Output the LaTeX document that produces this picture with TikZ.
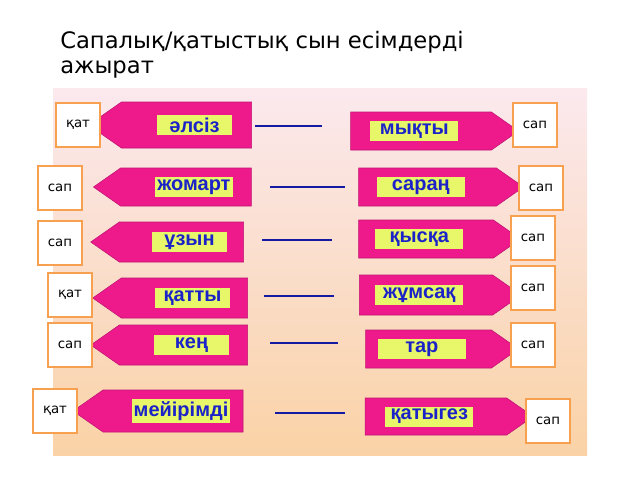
\documentclass[tikz,border=0pt]{standalone}
\usepackage{fontspec}
\setmainfont{DejaVu Sans}
\newfontfamily\arfont{Liberation Sans}
\usetikzlibrary{shapes.arrows,calc}
\definecolor{magenta1}{HTML}{EE1A8C}
\definecolor{lemon}{HTML}{E8F66A}
\definecolor{wordblue}{HTML}{1A22C8}
\definecolor{boxorange}{HTML}{F7A050}
\definecolor{bgtop}{HTML}{FBE9EE}
\definecolor{bgbot}{HTML}{FAD2A6}
\tikzset{
  arr/.style={single arrow, single arrow head extend=0pt, single arrow tip angle=70,
    fill=magenta1, draw=magenta1!80!black, inner sep=0pt},
  word/.style={fill=lemon, text=wordblue, font=\arfont\bfseries\fontsize{15}{15}\selectfont,
    inner sep=1.5pt, minimum height=15pt, minimum width=56pt},
  tag/.style={draw=boxorange, line width=1pt, fill=white, minimum size=33pt,
    font=\fontsize{10}{10}\selectfont},
  joinline/.style={draw=wordblue!80!black, line width=1.2pt}
}
\begin{document}
\begin{tikzpicture}[x=0.75pt,y=-0.75pt]
  \useasboundingbox (0,0) rectangle (640,480);
  % Background panel and title
  \shade[top color=bgtop, bottom color=bgbot] (53,88) rectangle (587,455);
  \node[anchor=north west, align=left, font=\fontsize{17}{19}\selectfont, inner sep=0pt] (title) at (60,31)
    {Сапалық/қатыстық сын есімдерді\\ажырат};
  % Rows: left arrow, right arrow, joining line, tags
  \foreach \i/\lxa/\lxb/\lya/\lyb/\lt/\rxa/\rxb/\rya/\ryb/\rt/\ca/\cb/\cy/\tlx/\tly/\tl/\trx/\try in {
      1/105/268/102/148/әлсіз/337/505/112/150/мықты/255/322/126/78/125/қат/535/125,
      2/107/265/168/206/жомарт/345/510/168/206/сараң/270/345/187/60/188/сап/541/188,
      3/105/258/222/262/ұзын/345/507/220/258/қысқа/262/332/240/60/243/сап/533/238,
      4/107/262/278/318/қатты/345/507/275/315/жұмсақ/264/334/296/70/295/қат/533/288,
      5/105/262/325/365/кең/352/505/330/368/тар/270/338/343/70/345/сап/533/345,
      6/88/258/390/432/мейірімді/352/520/398/435/қатыгез/275/345/413/55/411/қат/548/421} {
    \node[arr, shape border rotate=180, minimum height={(\lxb-\lxa)*0.75pt}, minimum width={(\lyb-\lya)*0.75pt}]
      (L\i) at ({(\lxa+\lxb)/2},{(\lya+\lyb)/2}) {};
    \node[word] (Lw\i) at ([xshift=6pt]L\i.center) {\lt};
    \node[arr, minimum height={(\rxb-\rxa)*0.75pt}, minimum width={(\ryb-\rya)*0.75pt}]
      (R\i) at ({(\rxa+\rxb)/2},{(\rya+\ryb)/2}) {};
    \node[word, minimum width=66pt] (Rw\i) at ([xshift=-5pt]R\i.center) {\rt};
    \coordinate (da\i) at (\ca,\cy);
    \coordinate (db\i) at (\cb,\cy);
    \draw[joinline] (da\i) -- (db\i);
    \node[tag] (TL\i) at (\tlx,\tly) {\tl};
    \node[tag] (TR\i) at (\trx,\try) {сап};
  }
\end{tikzpicture}
\end{document}
